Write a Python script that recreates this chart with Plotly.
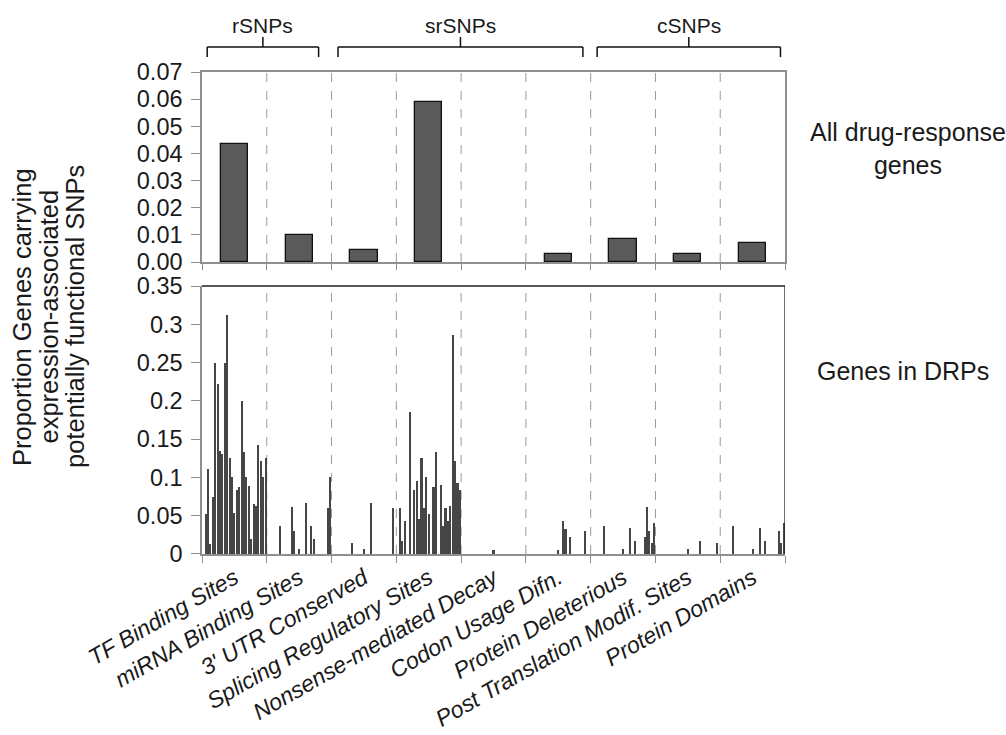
import plotly.graph_objects as go

categories = ["TF Binding Sites", "miRNA Binding Sites", "3' UTR Conserved",
              "Splicing Regulatory Sites", "Nonsense-mediated Decay", "Codon Usage Difn.",
              "Protein Deleterious", "Post Translation Modif. Sites", "Protein Domains"]

# Top panel: all drug-response genes
all_drg = [0.0435, 0.0100, 0.0043, 0.0588, 0.0, 0.0029, 0.0086, 0.0030, 0.0071]

# Bottom panel: genes in DRPs (27 pathways per category, in pathway order)
n_drp = 27
drp_tf = [0, 0.052, 0.111, 0.013, 0.074, 0.250, 0.222, 0.135, 0.130, 0.250, 0.312, 0.125, 0.100,
          0.053, 0.083, 0.087, 0.200, 0.133, 0.100, 0.089, 0.020, 0.065, 0.063, 0.143, 0.122, 0.100, 0.126]
drp_mirna = [0, 0, 0, 0, 0, 0.037, 0, 0, 0, 0, 0.062, 0.030, 0, 0.0065, 0, 0, 0.067, 0, 0.036,
             0.019, 0, 0, 0, 0, 0, 0.060, 0.100]
drp_utr = [0, 0, 0, 0, 0, 0, 0, 0, 0.014, 0, 0, 0, 0, 0.0065, 0, 0, 0.066, 0, 0, 0, 0, 0, 0, 0,
           0, 0.060, 0]
drp_splice = [0, 0.060, 0.017, 0.043, 0, 0.185, 0, 0.084, 0.095, 0.046, 0.125, 0.060, 0.100, 0.052,
              0, 0.087, 0.133, 0, 0.090, 0.037, 0.060, 0.043, 0.063, 0.286, 0.121, 0.093, 0.083]
drp_nmd = [0, 0, 0, 0, 0, 0, 0, 0, 0, 0, 0, 0, 0, 0.0057, 0, 0, 0, 0, 0, 0, 0, 0, 0, 0, 0, 0, 0]
drp_codon = [0, 0, 0, 0, 0, 0, 0, 0, 0, 0, 0, 0, 0, 0.0057, 0, 0.0435, 0.033, 0, 0.022, 0, 0, 0, 0,
             0, 0.030, 0, 0]
drp_pdel = [0, 0, 0, 0, 0, 0.037, 0, 0, 0, 0, 0, 0, 0, 0.0065, 0, 0, 0.0335, 0, 0.017, 0, 0, 0,
            0.022, 0.062, 0.030, 0.015, 0.041]
drp_ptm = [0, 0, 0, 0, 0, 0, 0, 0, 0, 0, 0, 0, 0, 0.0065, 0, 0, 0, 0, 0.017, 0, 0, 0, 0, 0, 0,
           0.015, 0]
drp_dom = [0, 0, 0, 0, 0, 0.037, 0, 0, 0, 0, 0, 0, 0, 0.0065, 0, 0, 0.0335, 0, 0.017, 0, 0, 0, 0,
           0, 0.030, 0.015, 0.041]

drp_all = [drp_tf, drp_mirna, drp_utr, drp_splice, drp_nmd, drp_codon, drp_pdel, drp_ptm, drp_dom]

groups = ["rSNPs", "srSNPs", "cSNPs"]
group_spans = [(0.08, 1.80), (2.10, 5.88), (6.10, 8.93)]

y_title_lines = ["Proportion Genes carrying", "expression-associated", "potentially functional SNPs"]

top_ticks = [0, 0.01, 0.02, 0.03, 0.04, 0.05, 0.06, 0.07]
bot_ticks = [0, 0.05, 0.1, 0.15, 0.2, 0.25, 0.3, 0.35]

FONT = "Liberation Sans, Arial, sans-serif"
TXT = "#1a1a1a"
AXC = "#8f8f8f"
ncat = len(categories)

fig = go.Figure()

fig.add_trace(go.Bar(
    x=[i + 0.5 for i in range(ncat)], y=all_drg, width=0.42,
    marker=dict(color="#5a5a5a",
                line=dict(color="#111111", width=[1.3 if v > 0 else 0 for v in all_drg])),
    xaxis="x", yaxis="y", showlegend=False, hoverinfo="skip"))

bx, by = [], []
for c, vals in enumerate(drp_all):
    for i, v in enumerate(vals):
        bx.append(c + (i + 0.5) / n_drp)
        by.append(v)
fig.add_trace(go.Bar(
    x=bx, y=by, width=0.86 / n_drp,
    marker=dict(color="#464646", line=dict(width=0)),
    xaxis="x2", yaxis="y2", showlegend=False, hoverinfo="skip"))

shapes = []
for k in range(1, ncat):
    for xr, yr in (("x", "y domain"), ("x2", "y2 domain")):
        shapes.append(dict(type="line", xref=xr, yref=yr, x0=k, x1=k, y0=0, y1=1,
                           line=dict(color="#9a9a9a", width=1, dash="dash"), layer="below"))
# black top / right frame of lower panel
shapes.append(dict(type="line", xref="x2", yref="y2 domain", x0=0, x1=ncat, y0=1, y1=1,
                   line=dict(color="#222222", width=1.3)))
shapes.append(dict(type="line", xref="x2", yref="y2 domain", x0=ncat, x1=ncat, y0=0, y1=1,
                   line=dict(color="#222222", width=1.3)))

# group brackets
yb, ye, yc = 1.0519, 1.031, 1.0726
annotations = []
for name, (a, b) in zip(groups, group_spans):
    m = (a + b) / 2
    for (x0, x1, y0, y1) in ((a, b, yb, yb), (a, a, yb, ye), (b, b, yb, ye), (m, m, yb, yc)):
        shapes.append(dict(type="line", xref="x", yref="paper", x0=x0, x1=x1, y0=y0, y1=y1,
                           line=dict(color="#111111", width=1.5)))
    annotations.append(dict(text=name, x=m, xref="x", y=1.0975, yref="paper",
                            showarrow=False, xanchor="center", yanchor="middle",
                            font=dict(family=FONT, size=21, color=TXT)))

# y-axis title: three tightly spaced lines
for line, px in zip(y_title_lines, (22, 48.5, 75)):
    annotations.append(dict(
        text=line, x=(px - 202) / 583, xref="paper", y=(554 - 317) / 482, yref="paper",
        textangle=-90, showarrow=False, xanchor="center", yanchor="middle",
        font=dict(family=FONT, size=25.5, color=TXT)))

annotations.append(dict(text="All drug-response<br>genes", x=(908 - 202) / 583, xref="paper",
                        y=0.842, yref="paper", showarrow=False, xanchor="center",
                        yanchor="middle", font=dict(family=FONT, size=25, color=TXT)))
annotations.append(dict(text="Genes in DRPs", x=(903 - 202) / 583, xref="paper", y=0.38,
                        yref="paper", showarrow=False, xanchor="center", yanchor="middle",
                        font=dict(family=FONT, size=25, color=TXT)))

bound_ticks = list(range(ncat + 1))

fig.update_layout(
    width=1006, height=735,
    margin=dict(l=202, r=221, t=72, b=181, autoexpand=False),
    paper_bgcolor="white", plot_bgcolor="white",
    bargap=0,
    shapes=shapes, annotations=annotations,
    xaxis=dict(domain=[0, 1], anchor="y", range=[0, ncat], showgrid=False, zeroline=False,
               showline=True, linecolor=AXC, linewidth=1.5, mirror=True, automargin=False,
               tickvals=bound_ticks, ticks="outside", ticklen=6, tickcolor=AXC,
               showticklabels=False),
    yaxis=dict(domain=[0.6058, 1], anchor="x", range=[0, 0.07], tickvals=top_ticks,
               tickformat=".2f", showgrid=False, zeroline=False, showline=True,
               linecolor=AXC, linewidth=1.5, mirror=True, ticks="outside", ticklen=9,
               tickcolor=AXC, ticklabelstandoff=4, automargin=False,
               tickfont=dict(family=FONT, size=23.5, color=TXT)),
    xaxis2=dict(domain=[0, 1], anchor="y2", range=[0, ncat], showgrid=False, zeroline=False,
                showline=True, linecolor=AXC, linewidth=1.5, automargin=False,
                tickvals=[i + 0.5 for i in range(ncat)], ticktext=categories,
                ticks="", tickangle=-30,
                tickfont=dict(family=FONT, size=23, color=TXT, style="italic"),
                minor=dict(tickvals=bound_ticks, ticks="outside", ticklen=7, tickcolor=AXC)),
    yaxis2=dict(domain=[0, 0.556], anchor="x2", range=[0, 0.35], tickvals=bot_ticks,
                showgrid=False, zeroline=False, showline=True, linecolor=AXC, linewidth=1.5,
                ticks="outside", ticklen=9, tickcolor=AXC, ticklabelstandoff=4,
                automargin=False, tickfont=dict(family=FONT, size=23.5, color=TXT)),
)

fig.write_html("out.html")
